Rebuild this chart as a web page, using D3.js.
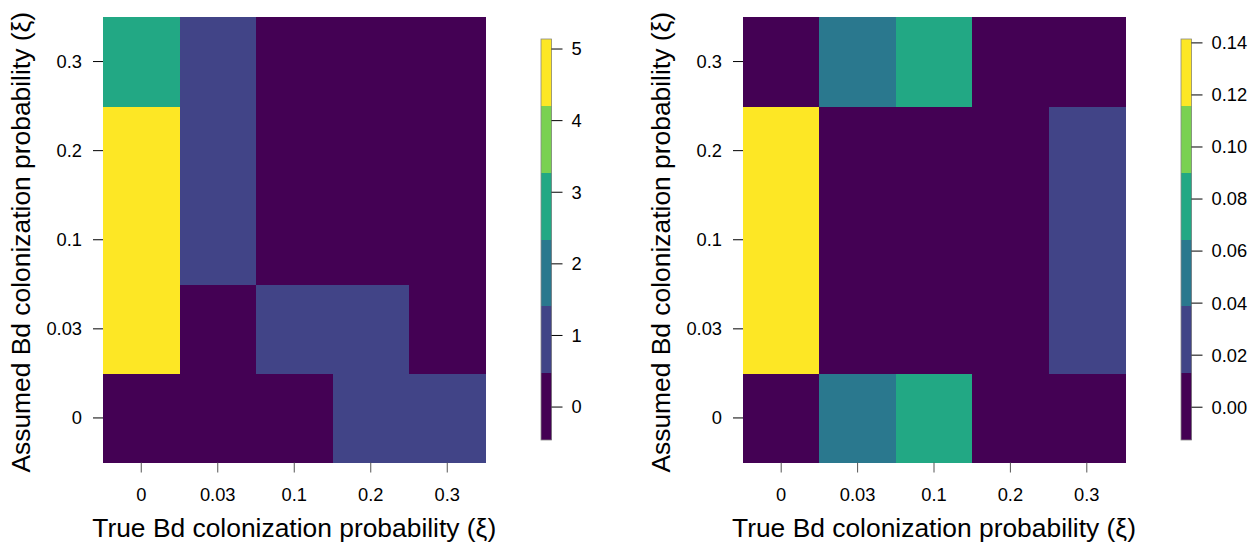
<!DOCTYPE html>
<html>
<head>
<meta charset="utf-8">
<script src="https://cdn.jsdelivr.net/npm/d3@7"></script>
<style>
  body { margin: 0; background: #fff; }
  svg text { font-family: "Liberation Sans", Arial, Helvetica, sans-serif; fill: #000; }
</style>
</head>
<body>
<div id="chart"></div>
<script>
// Categories (true / assumed Bd colonization probability)
const trueXi = ["0", "0.03", "0.1", "0.2", "0.3"];
const assumedXi = ["0", "0.03", "0.1", "0.2", "0.3"];

// Left panel values, one row per assumed xi (bottom to top), columns = true xi
const leftValues = [
    [0, 0, 0, 1, 1],
    [5.1, 0, 1, 1, 0],
    [5.1, 1, 0, 0, 0],
    [5.1, 1, 0, 0, 0],
    [3, 1, 0, 0, 0]
];
const leftRange = [-0.46, 5.14];
const leftTicks = [0, 1, 2, 3, 4, 5];

// Right panel values
const rightValues = [
    [0, 0.05, 0.075, 0, 0],
    [0.14, 0, 0, 0, 0.025],
    [0.14, 0, 0, 0, 0.025],
    [0.14, 0, 0, 0, 0.025],
    [0, 0.05, 0.075, 0, 0]
];
const rightRange = [-0.0126, 0.1415];
const rightTicks = [0, 0.02, 0.04, 0.06, 0.08, 0.10, 0.12, 0.14];

const xTitle = "True Bd colonization probability (ξ)";
const yTitle = "Assumed Bd colonization probability (ξ)";

const width = 1252;
const height = 546;
const nLevels = 6;
const palette = d3.quantize(d3.interpolateViridis, nLevels);
const tickFont = 18.3;
const titleFont = 26.4;

const svg = d3.create("svg")
    .attr("width", width)
    .attr("height", height);
svg.append("rect").attr("width", width).attr("height", height).attr("fill", "#fff");
document.getElementById("chart").append(svg.node());

function drawPanel(opts) {
    const { left, right, values, zRange, ticks, fmt, barX } = opts;
    const top = 17, bottom = 462.5;

    const x = d3.scaleBand().domain(trueXi).range([left, right]);
    const y = d3.scaleBand().domain(assumedXi).range([bottom, top]);

    const color = d3.scaleQuantize().domain(zRange).range(palette);

    // cells
    const cells = [];
    values.forEach((row, i) => row.forEach((v, j) => cells.push({ a: assumedXi[i], t: trueXi[j], v })));
    svg.append("g")
        .selectAll("rect")
        .data(cells)
        .join("rect")
        .attr("x", d => x(d.t))
        .attr("y", d => y(d.a))
        .attr("width", x.bandwidth() + 0.5)
        .attr("height", y.bandwidth() + 0.5)
        .attr("fill", d => color(d.v))
        .attr("shape-rendering", "crispEdges");

    // x axis
    const gx = svg.append("g").attr("transform", `translate(0,${bottom})`);
    gx.selectAll("line")
        .data(trueXi)
        .join("line")
        .attr("x1", d => x(d) + x.bandwidth() / 2)
        .attr("x2", d => x(d) + x.bandwidth() / 2)
        .attr("y1", 0).attr("y2", 10)
        .attr("stroke", "#555");
    gx.selectAll("text")
        .data(trueXi)
        .join("text")
        .attr("x", d => x(d) + x.bandwidth() / 2)
        .attr("y", 38.3)
        .attr("text-anchor", "middle")
        .attr("font-size", tickFont)
        .text(d => d);

    // y axis
    const gy = svg.append("g").attr("transform", `translate(${left},0)`);
    gy.selectAll("line")
        .data(assumedXi)
        .join("line")
        .attr("y1", d => y(d) + y.bandwidth() / 2)
        .attr("y2", d => y(d) + y.bandwidth() / 2)
        .attr("x1", -10).attr("x2", 0)
        .attr("stroke", "#000");
    gy.selectAll("text")
        .data(assumedXi)
        .join("text")
        .attr("x", -21)
        .attr("y", d => y(d) + y.bandwidth() / 2)
        .attr("dy", "0.35em")
        .attr("text-anchor", "end")
        .attr("font-size", tickFont)
        .text(d => d);

    // axis titles
    svg.append("text")
        .attr("x", (left + right) / 2)
        .attr("y", 536.5)
        .attr("text-anchor", "middle")
        .attr("font-size", titleFont)
        .text(xTitle);
    svg.append("text")
        .attr("transform", `translate(${left - 73},${(top + bottom) / 2 + 2.5}) rotate(-90)`)
        .attr("text-anchor", "middle")
        .attr("font-size", titleFont)
        .text(yTitle);

    // colour bar
    const barTop = 39, barBottom = 440, barW = 10.5;
    const z = d3.scaleLinear().domain(zRange).range([barBottom, barTop]);
    const breaks = d3.range(nLevels + 1).map(i => zRange[0] + i * (zRange[1] - zRange[0]) / nLevels);
    svg.append("g")
        .selectAll("rect")
        .data(d3.range(nLevels))
        .join("rect")
        .attr("x", barX)
        .attr("y", i => z(breaks[i + 1]))
        .attr("width", barW)
        .attr("height", i => z(breaks[i]) - z(breaks[i + 1]))
        .attr("fill", i => palette[i])
        .attr("shape-rendering", "crispEdges");
    svg.append("rect")
        .attr("x", barX)
        .attr("y", barTop)
        .attr("width", barW)
        .attr("height", barBottom - barTop)
        .attr("fill", "none")
        .attr("stroke", "#888")
        .attr("stroke-width", 0.8);

    const gz = svg.append("g").attr("transform", `translate(${barX + barW},0)`);
    gz.selectAll("line")
        .data(ticks)
        .join("line")
        .attr("y1", d => z(d)).attr("y2", d => z(d))
        .attr("x1", 0).attr("x2", 11)
        .attr("stroke", "#000");
    gz.selectAll("text")
        .data(ticks)
        .join("text")
        .attr("x", 20)
        .attr("y", d => z(d))
        .attr("dy", "0.35em")
        .attr("font-size", tickFont)
        .text(d => fmt(d));
}

drawPanel({
    left: 103, right: 485.5,
    values: leftValues, zRange: leftRange, ticks: leftTicks,
    fmt: d3.format("d"), barX: 541
});

drawPanel({
    left: 743, right: 1125,
    values: rightValues, zRange: rightRange, ticks: rightTicks,
    fmt: d3.format(".2f"), barX: 1181
});
</script>
</body>
</html>
